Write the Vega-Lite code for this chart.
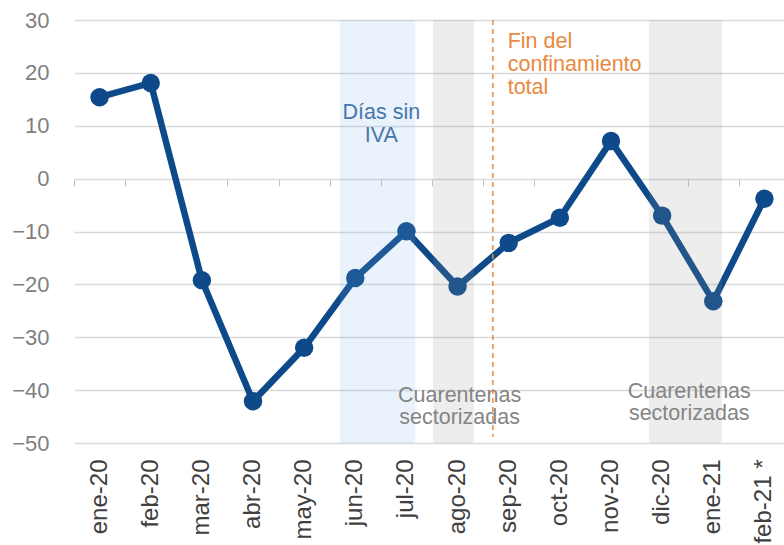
{
  "$schema": "https://vega.github.io/schema/vega-lite/v6.json",
  "autosize": {"type": "none"},
  "padding": {"left": 74, "top": 20, "right": 0, "bottom": 102},
  "width": 710,
  "height": 423,
  "background": "white",
  "config": {
    "view": {"stroke": null},
    "font": "Liberation Sans",
    "axisY": {"domain": false, "ticks": false, "grid": true, "gridColor": "#d9d9d9", "gridWidth": 1.3,
              "tickCount": 8, "labelFontSize": 22, "labelColor": "#7f7f7f", "labelPadding": 25, "title": null}
  },
  "datasets": {
    "serie": [
      {"mes": "ene-20", "valor": 15.4},
      {"mes": "feb-20", "valor": 18.1},
      {"mes": "mar-20", "valor": -19.2},
      {"mes": "abr-20", "valor": -42.1},
      {"mes": "may-20", "valor": -32.0},
      {"mes": "jun-20", "valor": -18.8},
      {"mes": "jul-20", "valor": -9.95},
      {"mes": "ago-20", "valor": -20.4},
      {"mes": "sep-20", "valor": -12.15},
      {"mes": "oct-20", "valor": -7.4},
      {"mes": "nov-20", "valor": 7.1},
      {"mes": "dic-20", "valor": -7.0},
      {"mes": "ene-21", "valor": -23.2},
      {"mes": "feb-21 *", "valor": -3.8}
    ],
    "bandas": [
      {"x0": 4.70, "x1": 6.17, "tipo": "IVA"},
      {"x0": 6.52, "x1": 7.32, "tipo": "Cuarentenas"},
      {"x0": 10.74, "x1": 12.17, "tipo": "Cuarentenas"}
    ],
    "regla": [{"x": 7.69, "y1": 30, "y2": -48.8}],
    "notas": [
      {"x": 5.51, "y": 12.5, "t": "Días sin", "g": "iva", "a": "c"},
      {"x": 5.51, "y": 8.05, "t": "IVA", "g": "iva", "a": "c"},
      {"x": 7.98, "y": 25.75, "t": "Fin del", "g": "fin", "a": "l"},
      {"x": 7.98, "y": 21.4, "t": "confinamiento", "g": "fin", "a": "l"},
      {"x": 7.98, "y": 17.05, "t": "total", "g": "fin", "a": "l"},
      {"x": 7.04, "y": -41.04, "t": "Cuarentenas", "g": "cuar", "a": "c"},
      {"x": 7.04, "y": -45.2, "t": "sectorizadas", "g": "cuar", "a": "c"},
      {"x": 11.53, "y": -40.28, "t": "Cuarentenas", "g": "cuar", "a": "c"},
      {"x": 11.53, "y": -44.44, "t": "sectorizadas", "g": "cuar", "a": "c"}
    ]
  },
  "resolve": {"scale": {"x": "independent", "color": "independent"}, "axis": {"x": "independent"}},
  "layer": [
    {
      "data": {"name": "serie"},
      "mark": {"type": "tick", "opacity": 0},
      "encoding": {
        "x": {"field": "mes", "type": "ordinal", "sort": null,
              "scale": {"type": "band", "range": [0, 716], "paddingInner": 0, "paddingOuter": 0},
              "axis": {"orient": "bottom", "offset": -264, "tickBand": "extent",
                       "labels": false, "domain": false, "grid": false, "ticks": true, "tickSize": 7,
                       "tickColor": "#c4c4c4", "tickWidth": 1, "title": null}},
        "y": {"field": "valor", "type": "quantitative", "scale": {"domain": [-50, 30], "nice": false},
              "axis": {"labelPadding": 25, "labelFontSize": 22, "labelColor": "#7f7f7f", "title": null}}
      }
    },
    {
      "data": {"name": "serie"},
      "encoding": {
        "x": {"field": "mes", "type": "ordinal", "sort": null,
              "scale": {"type": "band", "range": [0, 716], "paddingInner": 0, "paddingOuter": 0},
              "axis": {"orient": "bottom", "labelAngle": -90, "labelFontSize": 24, "labelColor": "#404040",
                       "ticks": false, "domain": false, "grid": false, "labelPadding": 16, "title": null}},
        "y": {"field": "valor", "type": "quantitative", "scale": {"domain": [-50, 30], "nice": false},
              "axis": {"labelPadding": 25, "labelFontSize": 22, "labelColor": "#7f7f7f", "title": null}}
      },
      "layer": [
        {"mark": {"type": "line", "color": "#0e4a8a", "strokeWidth": 6.5}},
        {"mark": {"type": "circle", "color": "#0e4a8a", "opacity": 1, "size": 340}}
      ]
    },
    {
      "data": {"name": "bandas"},
      "mark": {"type": "rect", "opacity": 0.16},
      "encoding": {
        "x": {"field": "x0", "type": "quantitative",
              "scale": {"domain": [-0.5, 13.5], "range": [0, 716], "nice": false, "zero": false},
              "axis": null},
        "x2": {"field": "x1"},
        "color": {"field": "tipo", "type": "nominal", "legend": null,
                  "scale": {"domain": ["IVA", "Cuarentenas"], "range": ["#7aade6", "#929292"]}}
      }
    },
    {
      "data": {"name": "notas"},
      "transform": [{"filter": "datum.a == 'c'"}],
      "mark": {"type": "text", "align": "center", "baseline": "middle", "fontSize": 21.5},
      "encoding": {
        "x": {"field": "x", "type": "quantitative", "axis": null,
              "scale": {"domain": [-0.5, 13.5], "range": [0, 716], "nice": false, "zero": false}},
        "y": {"field": "y", "type": "quantitative", "scale": {"domain": [-50, 30], "nice": false},
              "axis": {"labelPadding": 25, "labelFontSize": 22, "labelColor": "#7f7f7f", "title": null}},
        "text": {"field": "t"},
        "color": {"field": "g", "type": "nominal", "legend": null,
                  "scale": {"domain": ["iva", "fin", "cuar"], "range": ["#4677ab", "#e8893f", "#858585"]}}
      }
    },
    {
      "data": {"name": "notas"},
      "transform": [{"filter": "datum.a == 'l'"}],
      "mark": {"type": "text", "align": "left", "baseline": "middle", "fontSize": 21.5},
      "encoding": {
        "x": {"field": "x", "type": "quantitative", "axis": null,
              "scale": {"domain": [-0.5, 13.5], "range": [0, 716], "nice": false, "zero": false}},
        "y": {"field": "y", "type": "quantitative", "scale": {"domain": [-50, 30], "nice": false},
              "axis": {"labelPadding": 25, "labelFontSize": 22, "labelColor": "#7f7f7f", "title": null}},
        "text": {"field": "t"},
        "color": {"field": "g", "type": "nominal", "legend": null,
                  "scale": {"domain": ["iva", "fin", "cuar"], "range": ["#4677ab", "#e8893f", "#858585"]}}
      }
    },
    {
      "data": {"name": "regla"},
      "mark": {"type": "rule", "color": "#ec8a3c", "strokeWidth": 1.5, "strokeDash": [5, 4]},
      "encoding": {
        "x": {"field": "x", "type": "quantitative", "axis": null,
              "scale": {"domain": [-0.5, 13.5], "range": [0, 716], "nice": false, "zero": false}},
        "y": {"field": "y1", "type": "quantitative", "scale": {"domain": [-50, 30], "nice": false},
              "axis": {"labelPadding": 25, "labelFontSize": 22, "labelColor": "#7f7f7f", "title": null}},
        "y2": {"field": "y2"}
      }
    }
  ]
}
